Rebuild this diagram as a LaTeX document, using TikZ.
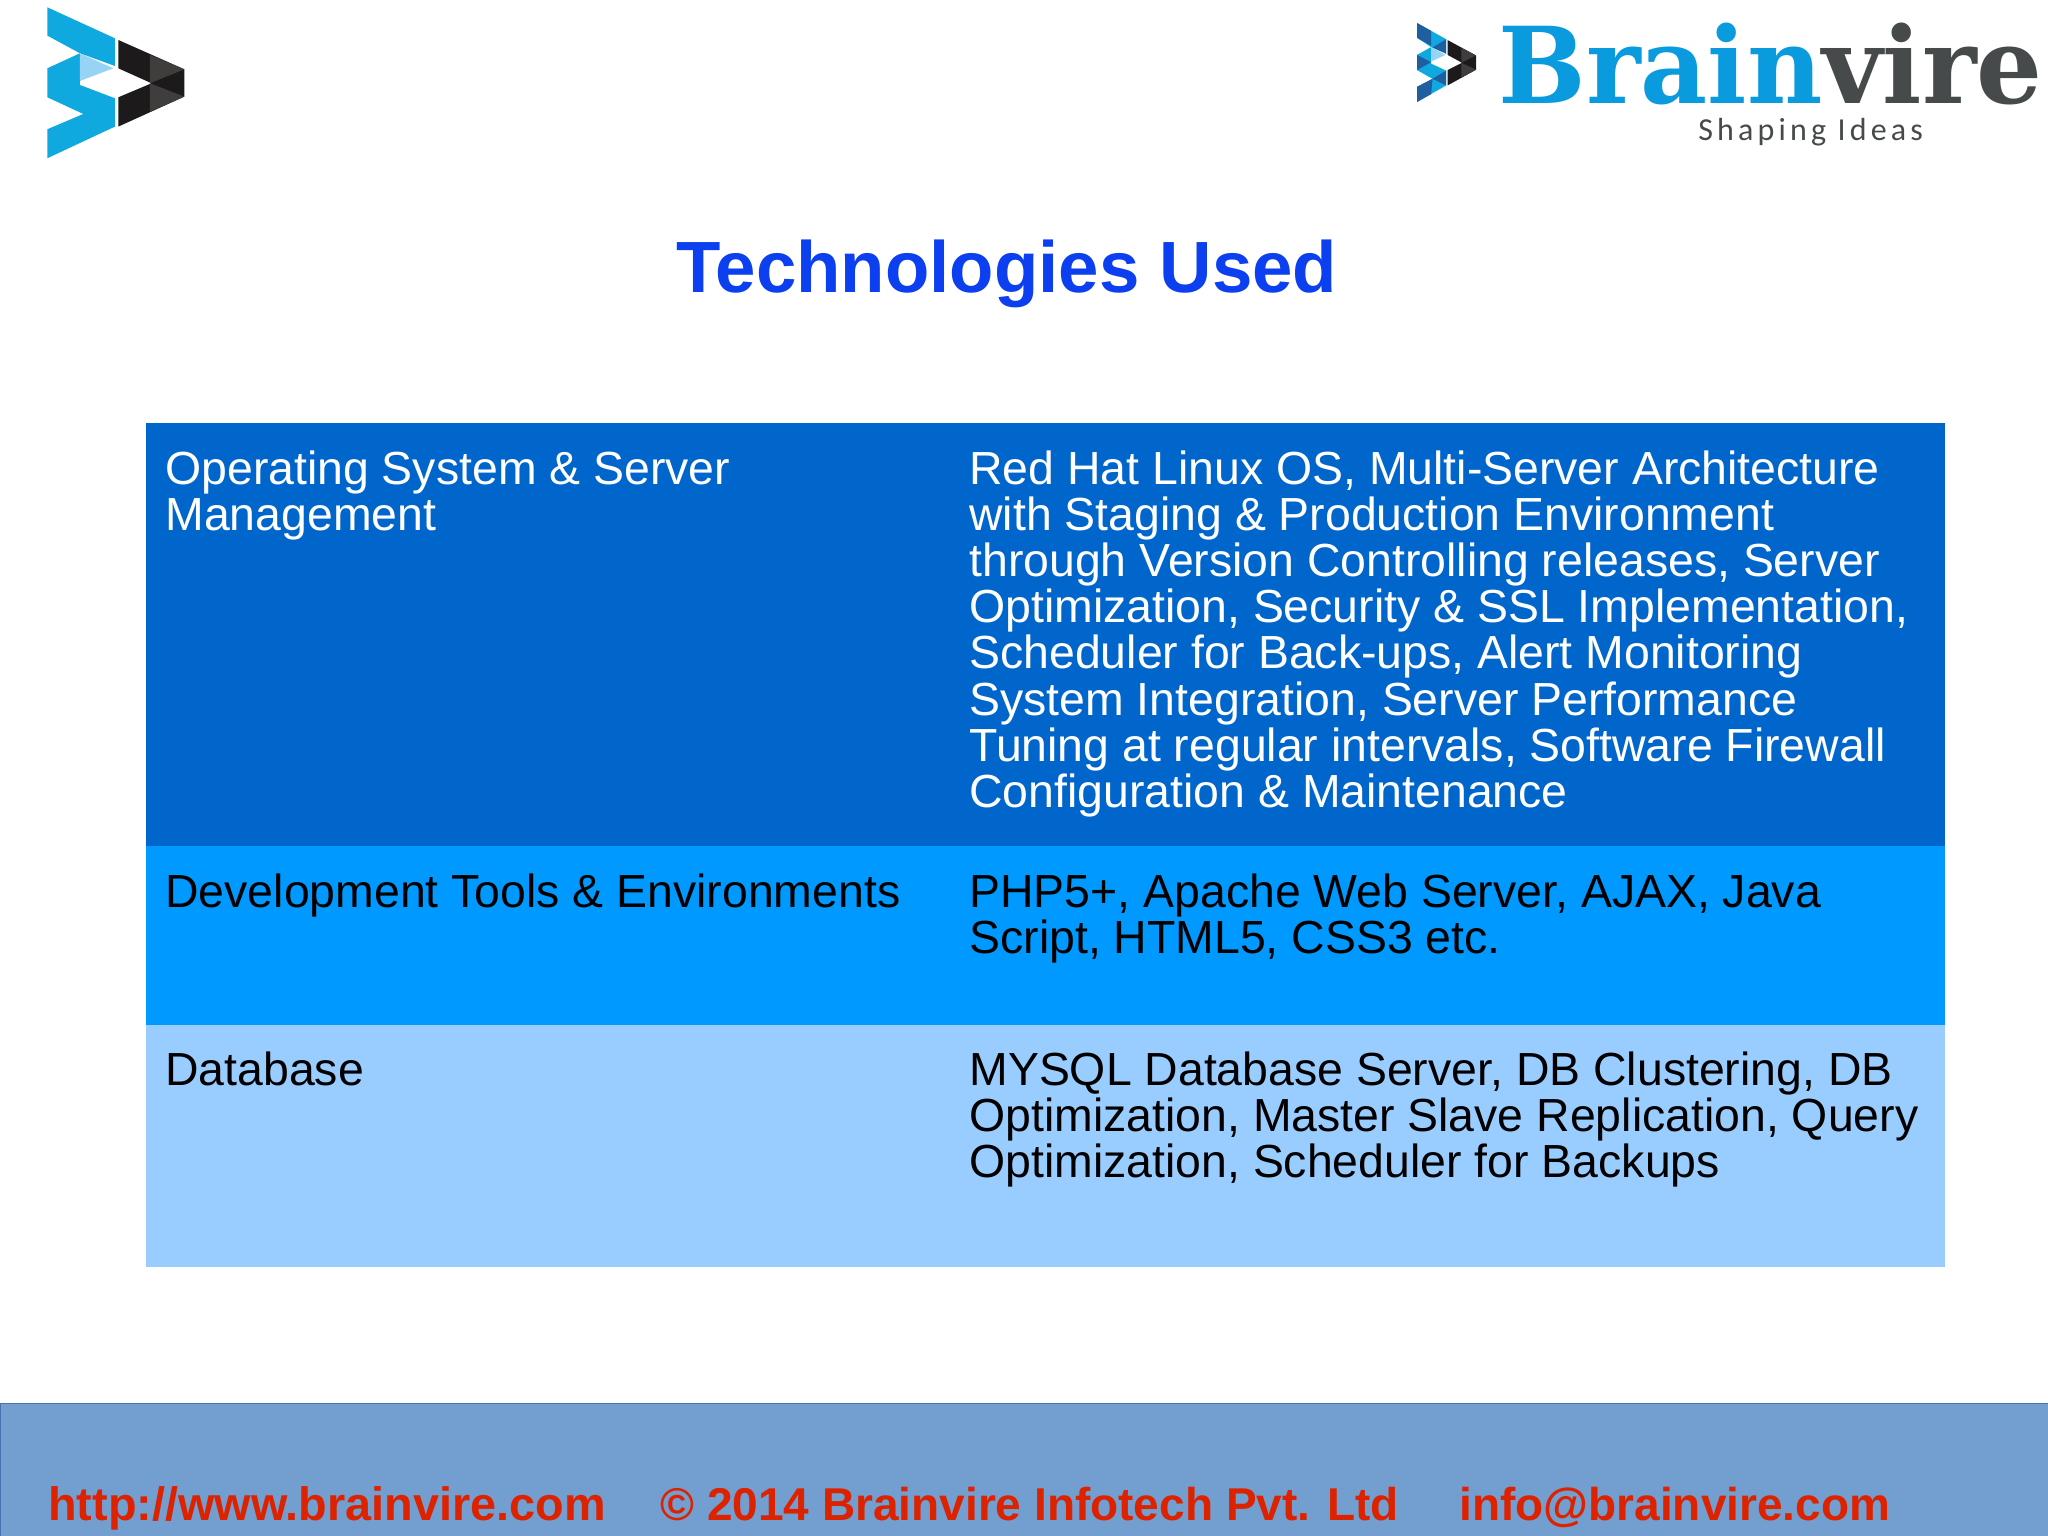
\documentclass[tikz,border=0pt]{standalone}
\usepackage{fontspec}
\setmainfont{Liberation Sans}
\newfontfamily\slabfont{DejaVu Serif}
\newfontfamily\tagfont[LetterSpace=13]{Carlito}
\usepackage{xcolor}
\definecolor{rowdark}{HTML}{0066CC}
\definecolor{rowmid}{HTML}{0099FF}
\definecolor{rowlight}{HTML}{99CCFF}
\definecolor{titleblue}{HTML}{0B3FEF}
\definecolor{footblue}{HTML}{729FCF}
\definecolor{footedge}{HTML}{4A72B0}
\definecolor{footred}{HTML}{DD2200}
\definecolor{logoblue}{HTML}{0FA9DF}
\definecolor{logopale}{HTML}{97D3F5}
\definecolor{logonavy}{HTML}{1F5F9F}
\definecolor{logoblack}{HTML}{1C1A1A}
\definecolor{logogray}{HTML}{403D3D}
\definecolor{wordblue}{HTML}{0A9ADE}
\definecolor{wordgray}{HTML}{474A4A}
\tikzset{
  celltext/.style={anchor=north west,inner sep=0pt,align=left,font=\fontsize{23.2}{23.1}\selectfont},
  foottext/.style={anchor=base west,inner sep=0pt,text=footred,font=\fontsize{23}{26}\selectfont\bfseries},
}
% the arrow mark, drawn in its own 411 by 453 box
\newcommand{\brainmark}{
    \fill[logoblue] (0,0) -- (203,93) -- (203,176) -- (98,138) -- (0,85) -- cycle;
    \fill[logoblue] (0,183) -- (98,138) -- (98,233) -- (203,273) -- (203,358) -- (0,453) -- (0,366) -- (108,320) -- (0,270) -- cycle;
    \fill[logopale] (98,138) -- (198,183) -- (98,221) -- cycle;
    \fill[logoblack] (213,98) -- (411,186) -- (411,268) -- (213,358) -- (213,270) -- (313,228) -- (213,183) -- cycle;
    \fill[logogray] (308,143) -- (411,186) -- (308,228) -- cycle;
    \fill[logogray] (308,228) -- (411,268) -- (308,313) -- cycle;
}
\begin{document}
\begin{tikzpicture}[x=0.5pt,y=-0.5pt]
    \useasboundingbox (0,0) rectangle (2048,1535);
    
    %/ Table rows
    \fill[rowdark] (146,423) rectangle (1945,846);
    \fill[rowmid] (146,846) rectangle (1945,1025);
    \fill[rowlight] (146,1025) rectangle (1945,1267);
    
    %/ Footer
    \draw[fill=footblue,draw=footedge] (0,1403) rectangle (2048,1536);
    
    %/ Logos
    \begin{scope}[shift={(47.3,7.3)},scale=0.3333]
        \brainmark
    \end{scope}
    \begin{scope}[shift={(1417,23)},xscale=0.1436,yscale=0.1744]
        \brainmark
        % darker facets of the small mark
        \fill[logonavy] (0,0) -- (98,45) -- (98,130) -- (0,85) -- cycle;
        \fill[logonavy] (203,93) -- (203,176) -- (108,140) -- cycle;
        \fill[logonavy] (0,183) -- (98,225) -- (0,270) -- cycle;
        \fill[logonavy] (108,320) -- (203,273) -- (203,358) -- cycle;
        \fill[logonavy] (0,366) -- (108,320) -- (98,408) -- (0,453) -- cycle;
    \end{scope}
    \node[anchor=base west,inner sep=0pt,font=\slabfont\bfseries\fontsize{53}{53}\selectfont] (wordmark) at (1498,104)
        {\scalebox{0.978}[1]{\textcolor{wordblue}{Brain}\textcolor{wordgray}{vire}}};
    \node[anchor=base west,inner sep=0pt,text=wordgray,font=\tagfont\fontsize{16}{18}\selectfont] (tagline) at (1698,141) {Shaping Ideas};
    
    %/ Title
    \node[anchor=base,inner sep=0pt,text=titleblue,font=\fontsize{36.3}{40}\selectfont\bfseries] (title) at (1007,293) {Technologies Used};
    
    %/ Cells
    \node[celltext,text=white] (osname) at (165,450) {Operating System \& Server\\Management};
    \node[celltext,text=white] (osinfo) at (969,450) {Red Hat Linux OS, Multi-Server Architecture\\with Staging \& Production Environment\\through Version Controlling releases, Server\\Optimization, Security \& SSL Implementation,\\Scheduler for Back-ups, Alert Monitoring\\System Integration, Server Performance\\Tuning at regular intervals, Software Firewall\\Configuration \& Maintenance};
    \node[celltext] (devname) at (165,873) {Development Tools \& Environments};
    \node[celltext] (devinfo) at (969,873) {PHP5+, Apache Web Server, AJAX, Java\\Script, HTML5, CSS3 etc.};
    \node[celltext] (dbname) at (165,1051) {Database};
    \node[celltext] (dbinfo) at (969,1051) {MYSQL Database Server, DB Clustering, DB\\Optimization, Master Slave Replication, Query\\Optimization, Scheduler for Backups};
    
    %/ Footer text
    \node[foottext,font=\fontsize{23.4}{26}\selectfont\bfseries] (website) at (48,1520) {http://www.brainvire.com};
    \node[foottext] (copyright) at (660,1520) {© 2014 Brainvire Infotech Pvt. Ltd};
    \node[foottext] (email) at (1459,1520) {info@brainvire.com};
\end{tikzpicture}
\end{document}
